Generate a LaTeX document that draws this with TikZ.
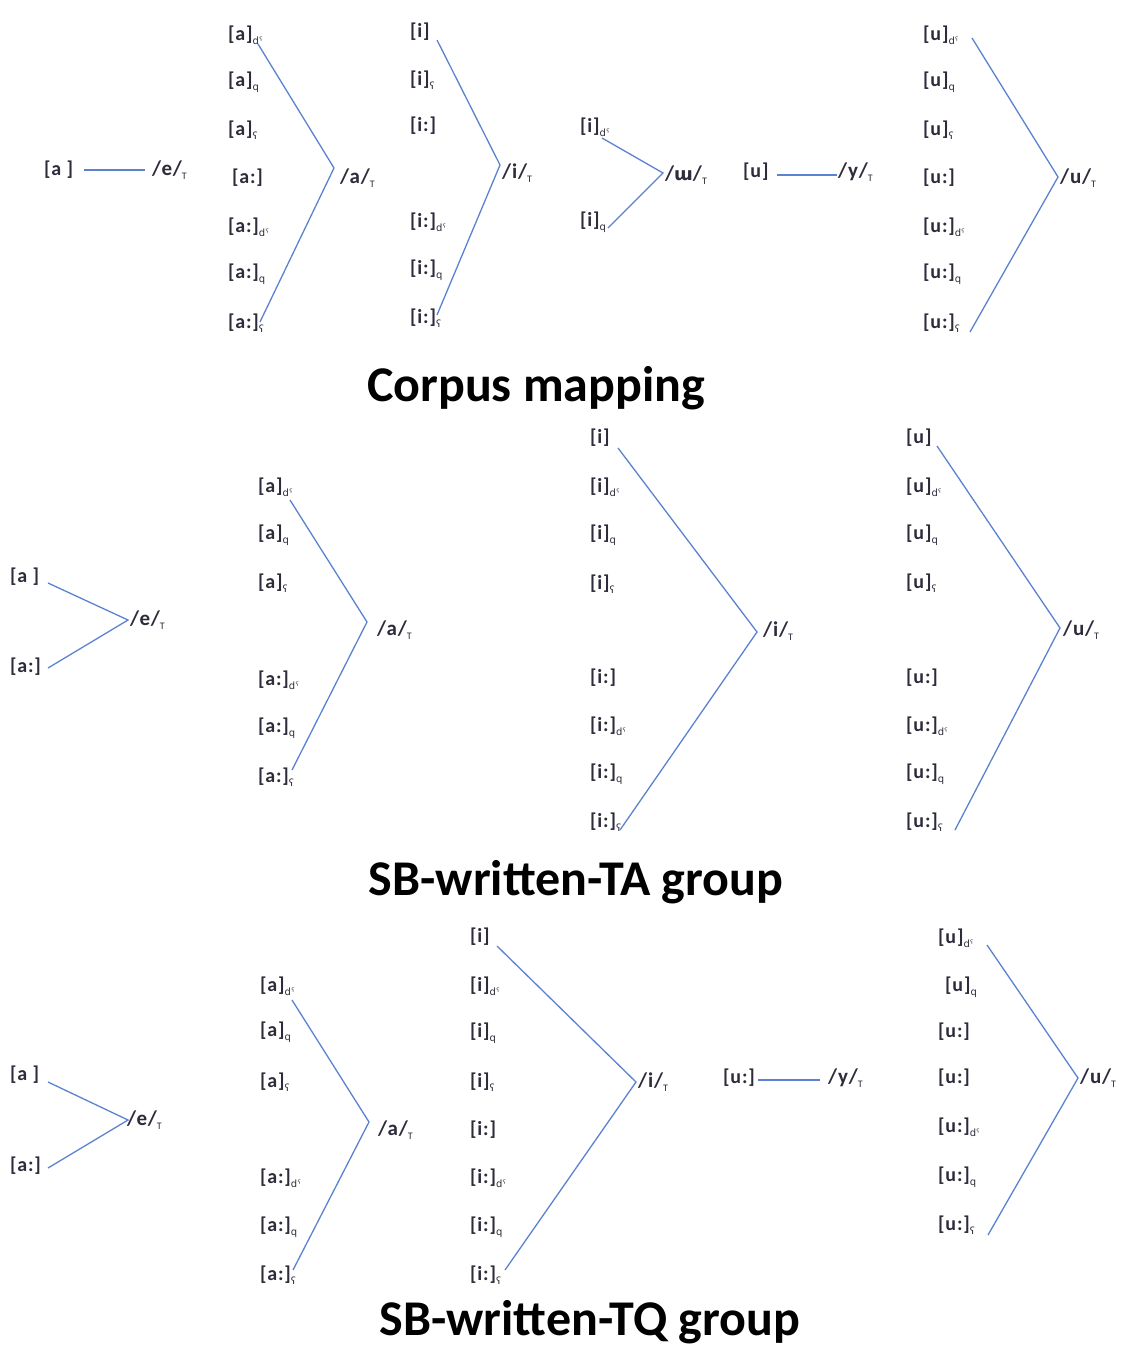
\documentclass[tikz,border=0pt]{standalone}
\usepackage{fontspec}
\setmainfont{Carlito}
\newfontfamily\ipa{DejaVu Sans}
\newfontfamily\labfont[LetterSpace=4]{Carlito}
\definecolor{txt}{HTML}{2E2B3A}
\definecolor{lblue}{HTML}{5B82D0}
\newcommand{\lsub}[1]{\raisebox{-0.45ex}{\mdseries\fontsize{10}{10}\selectfont #1}}
\newcommand{\subD}{\lsub{\ipa dˤ}}
\newcommand{\subQ}{\lsub{\ipa q}}
\newcommand{\subP}{\lsub{\ipa ʕ}}
\newcommand{\subT}{\lsub{T}}
\tikzset{
  lab/.style={anchor=west, inner sep=0pt, text=txt, font=\labfont\bfseries\fontsize{20}{20}\selectfont},
  phon/.style={anchor=west, inner sep=0pt, text=txt, font=\labfont\bfseries\fontsize{21}{21}\selectfont},
  ln/.style={draw=lblue, line width=1.3pt},
  ttl/.style={inner sep=0pt, text=black, font=\bfseries\fontsize{50}{50}\selectfont}
}
\begin{document}
\begin{tikzpicture}[x=1pt,y=-1pt]
\useasboundingbox (0,0) rectangle (1121,1349);
% ================= Row 1: Corpus mapping =================
\node[lab] (r1ea) at (44,170) {[a ]};
\node[phon] (r1e) at (152,170) {/e/\subT};
\coordinate (r1ea0) at (84,170);
\coordinate (r1ea1) at (145,170);
\draw[ln] (r1ea0) -- (r1ea1);

\node[lab] (r1a1) at (228,35) {[a]\subD};
\node[lab] (r1a2) at (228,82) {[a]\subQ};
\node[lab] (r1a3) at (228,130) {[a]\subP};
\node[lab] (r1a4) at (232,178) {[a:]};
\node[lab] (r1a5) at (228,227) {[a:]\subD};
\node[lab] (r1a6) at (228,274) {[a:]\subQ};
\node[lab] (r1a7) at (228,323) {[a:]\subP};
\node[phon] (r1a) at (340,178) {/a/\subT};
\coordinate (r1at) at (258,44);
\coordinate (r1av) at (334,168);
\coordinate (r1ab) at (260,322);
\draw[ln] (r1at) -- (r1av) -- (r1ab);

\node[lab] (r1i1) at (410,32) {[i]};
\node[lab] (r1i2) at (410,80) {[i]\subP};
\node[lab] (r1i3) at (410,126) {[i:]};
\node[lab] (r1i4) at (410,222) {[i:]\subD};
\node[lab] (r1i5) at (410,270) {[i:]\subQ};
\node[lab] (r1i6) at (410,318) {[i:]\subP};
\node[phon] (r1i) at (502,173) {/i/\subT};
\coordinate (r1it) at (437,40);
\coordinate (r1iv) at (500,165);
\coordinate (r1ib) at (437,315);
\draw[ln] (r1it) -- (r1iv) -- (r1ib);

\node[lab] (r1w1) at (580,127) {[i]\subD};
\node[lab] (r1w2) at (580,222) {[i]\subQ};
\node[phon] (r1w) at (665,175) {/{\ipa\bfseries\fontsize{18}{18}\selectfont ɯ}/\subT};
\coordinate (r1wt) at (602,138);
\coordinate (r1wv) at (663,173);
\coordinate (r1wb) at (608,228);
\draw[ln] (r1wt) -- (r1wv) -- (r1wb);

\node[lab] (r1yu) at (743,172) {[u]};
\node[phon] (r1y) at (838,172) {/y/\subT};
\coordinate (r1yu0) at (777,175);
\coordinate (r1yu1) at (837,175);
\draw[ln] (r1yu0) -- (r1yu1);

\node[lab] (r1u1) at (923,35) {[u]\subD};
\node[lab] (r1u2) at (923,82) {[u]\subQ};
\node[lab] (r1u3) at (923,130) {[u]\subP};
\node[lab] (r1u4) at (923,178) {[u:]};
\node[lab] (r1u5) at (923,227) {[u:]\subD};
\node[lab] (r1u6) at (923,274) {[u:]\subQ};
\node[lab] (r1u7) at (923,323) {[u:]\subP};
\node[phon] (r1u) at (1060,178) {/u/\subT};
\coordinate (r1ut) at (972,38);
\coordinate (r1uv) at (1058,177);
\coordinate (r1ub) at (970,332);
\draw[ln] (r1ut) -- (r1uv) -- (r1ub);

\node[ttl] (t1) at (536,388) {Corpus mapping};

% ================= Row 2: SB-written-TA group =================
\node[lab] (r2e1) at (10,577) {[a ]};
\node[lab] (r2e2) at (10,667) {[a:]};
\node[phon] (r2e) at (130,620) {/e/\subT};
\coordinate (r2et) at (48,583);
\coordinate (r2ev) at (128,620);
\coordinate (r2eb) at (48,668);
\draw[ln] (r2et) -- (r2ev) -- (r2eb);

\node[lab] (r2a1) at (258,487) {[a]\subD};
\node[lab] (r2a2) at (258,535) {[a]\subQ};
\node[lab] (r2a3) at (258,583) {[a]\subP};
\node[lab] (r2a4) at (258,680) {[a:]\subD};
\node[lab] (r2a5) at (258,728) {[a:]\subQ};
\node[lab] (r2a6) at (258,777) {[a:]\subP};
\node[phon] (r2a) at (377,630) {/a/\subT};
\coordinate (r2at) at (290,500);
\coordinate (r2av) at (367,622);
\coordinate (r2ab) at (292,770);
\draw[ln] (r2at) -- (r2av) -- (r2ab);

\node[lab] (r2i1) at (590,438) {[i]};
\node[lab] (r2i2) at (590,487) {[i]\subD};
\node[lab] (r2i3) at (590,535) {[i]\subQ};
\node[lab] (r2i4) at (590,584) {[i]\subP};
\node[lab] (r2i5) at (590,678) {[i:]};
\node[lab] (r2i6) at (590,726) {[i:]\subD};
\node[lab] (r2i7) at (590,774) {[i:]\subQ};
\node[lab] (r2i8) at (590,822) {[i:]\subP};
\node[phon] (r2i) at (763,631) {/i/\subT};
\coordinate (r2it) at (618,448);
\coordinate (r2iv) at (757,632);
\coordinate (r2ib) at (620,830);
\draw[ln] (r2it) -- (r2iv) -- (r2ib);

\node[lab] (r2u1) at (906,438) {[u]};
\node[lab] (r2u2) at (906,487) {[u]\subD};
\node[lab] (r2u3) at (906,535) {[u]\subQ};
\node[lab] (r2u4) at (906,583) {[u]\subP};
\node[lab] (r2u5) at (906,678) {[u:]};
\node[lab] (r2u6) at (906,726) {[u:]\subD};
\node[lab] (r2u7) at (906,774) {[u:]\subQ};
\node[lab] (r2u8) at (906,822) {[u:]\subP};
\node[phon] (r2u) at (1063,630) {/u/\subT};
\coordinate (r2ut) at (937,446);
\coordinate (r2uv) at (1060,628);
\coordinate (r2ub) at (955,830);
\draw[ln] (r2ut) -- (r2uv) -- (r2ub);

\node[ttl] (t2) at (576,882) {SB-written-TA group};

% ================= Row 3: SB-written-TQ group =================
\node[lab] (r3e1) at (10,1075) {[a ]};
\node[lab] (r3e2) at (10,1166) {[a:]};
\node[phon] (r3e) at (127,1120) {/e/\subT};
\coordinate (r3et) at (48,1082);
\coordinate (r3ev) at (128,1120);
\coordinate (r3eb) at (48,1168);
\draw[ln] (r3et) -- (r3ev) -- (r3eb);

\node[lab] (r3a1) at (260,986) {[a]\subD};
\node[lab] (r3a2) at (260,1032) {[a]\subQ};
\node[lab] (r3a3) at (260,1082) {[a]\subP};
\node[lab] (r3a4) at (260,1178) {[a:]\subD};
\node[lab] (r3a5) at (260,1227) {[a:]\subQ};
\node[lab] (r3a6) at (260,1275) {[a:]\subP};
\node[phon] (r3a) at (378,1130) {/a/\subT};
\coordinate (r3at) at (292,1000);
\coordinate (r3av) at (369,1122);
\coordinate (r3ab) at (293,1270);
\draw[ln] (r3at) -- (r3av) -- (r3ab);

\node[lab] (r3i1) at (470,937) {[i]};
\node[lab] (r3i2) at (470,986) {[i]\subD};
\node[lab] (r3i3) at (470,1033) {[i]\subQ};
\node[lab] (r3i4) at (470,1082) {[i]\subP};
\node[lab] (r3i5) at (470,1130) {[i:]};
\node[lab] (r3i6) at (470,1178) {[i:]\subD};
\node[lab] (r3i7) at (470,1227) {[i:]\subQ};
\node[lab] (r3i8) at (470,1275) {[i:]\subP};
\node[phon] (r3i) at (638,1082) {/i/\subT};
\coordinate (r3it) at (497,946);
\coordinate (r3iv) at (636,1082);
\coordinate (r3ib) at (505,1270);
\draw[ln] (r3it) -- (r3iv) -- (r3ib);

\node[lab] (r3yu) at (723,1078) {[u:]};
\node[phon] (r3y) at (828,1078) {/y/\subT};
\coordinate (r3yu0) at (758,1080);
\coordinate (r3yu1) at (820,1080);
\draw[ln] (r3yu0) -- (r3yu1);

\node[lab] (r3u1) at (938,938) {[u]\subD};
\node[lab] (r3u2) at (945,987) {[u]\subQ};
\node[lab] (r3u3) at (938,1032) {[u:]};
\node[lab] (r3u4) at (938,1078) {[u:]};
\node[lab] (r3u5) at (938,1127) {[u:]\subD};
\node[lab] (r3u6) at (938,1177) {[u:]\subQ};
\node[lab] (r3u7) at (938,1225) {[u:]\subP};
\node[phon] (r3u) at (1080,1078) {/u/\subT};
\coordinate (r3ut) at (987,945);
\coordinate (r3uv) at (1078,1078);
\coordinate (r3ub) at (988,1235);
\draw[ln] (r3ut) -- (r3uv) -- (r3ub);

\node[ttl] (t3) at (590,1322) {SB-written-TQ group};
\end{tikzpicture}
\end{document}
